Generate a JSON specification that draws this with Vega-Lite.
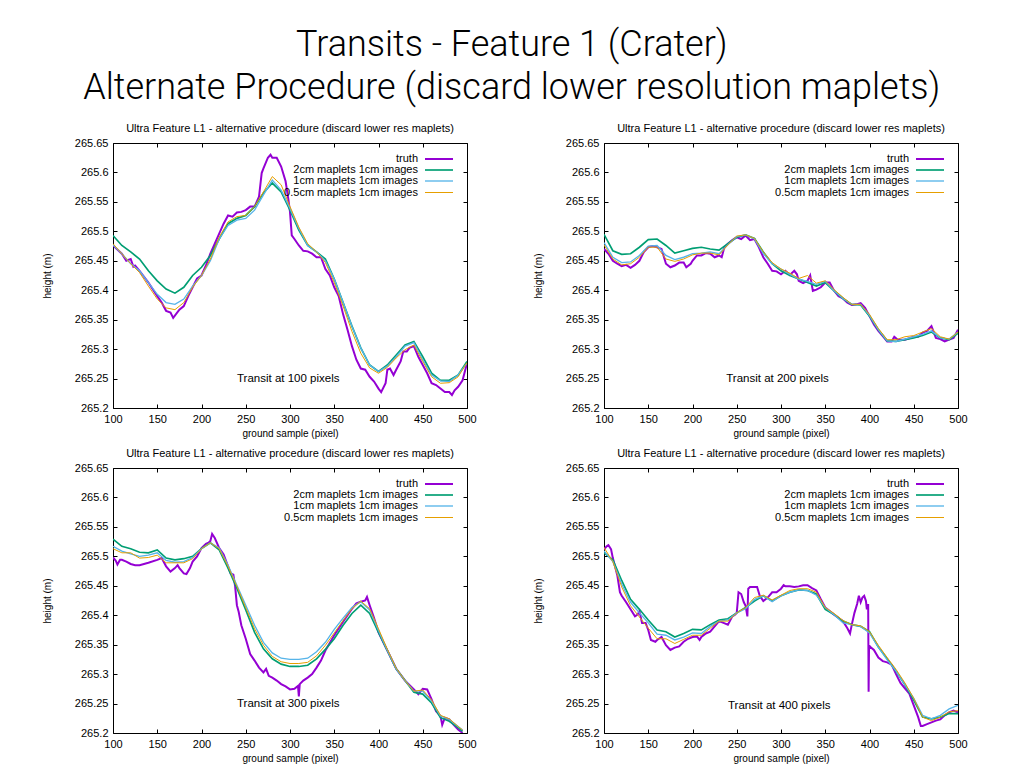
{
"$schema": "https://vega.github.io/schema/vega-lite/v6.json",
"background": "white",
"padding": {"left": 41, "top": 26, "right": 5, "bottom": 2},
"title": {"text": ["Transits - Feature 1 (Crater)", "Alternate Procedure (discard lower resolution maplets)"], "fontSize": 36, "font": "Roboto", "fontWeight": 300, "lineHeight": 43, "anchor": "middle", "offset": 16, "dx": 7, "color": "black"},
"datasets": {
"names": [{"s":"t","series":"truth"},{"s":"a","series":"2cm maplets 1cm images"},{"s":"b","series":"1cm maplets 1cm images"},{"s":"c","series":"0.5cm maplets 1cm images"}],
"d": [
{"p":1,"x":100,"t":265.476},{"p":1,"x":110,"t":265.462},{"p":1,"x":115,"t":265.45},{"p":1,"x":120,"t":265.453},{"p":1,"x":123,"t":265.44},{"p":1,"x":125,"t":265.442},{"p":1,"x":130,"t":265.433},{"p":1,"x":140,"t":265.413},{"p":1,"x":150,"t":265.39},{"p":1,"x":155,"t":265.379},{"p":1,"x":160,"t":265.365},{"p":1,"x":165,"t":265.362},{"p":1,"x":168,"t":265.353},{"p":1,"x":175,"t":265.367},{"p":1,"x":180,"t":265.373},{"p":1,"x":185,"t":265.39},{"p":1,"x":190,"t":265.405},{"p":1,"x":195,"t":265.42},{"p":1,"x":200,"t":265.425},{"p":1,"x":205,"t":265.442},{"p":1,"x":210,"t":265.462},{"p":1,"x":215,"t":265.479},{"p":1,"x":220,"t":265.496},{"p":1,"x":225,"t":265.513},{"p":1,"x":230,"t":265.527},{"p":1,"x":235,"t":265.525},{"p":1,"x":240,"t":265.532},{"p":1,"x":245,"t":265.533},{"p":1,"x":250,"t":265.536},{"p":1,"x":255,"t":265.542},{"p":1,"x":260,"t":265.542},{"p":1,"x":265,"t":265.559},{"p":1,"x":268,"t":265.599},{"p":1,"x":270,"t":265.607},{"p":1,"x":275,"t":265.625},{"p":1,"x":278,"t":265.63},{"p":1,"x":280,"t":265.625},{"p":1,"x":285,"t":265.625},{"p":1,"x":290,"t":265.61},{"p":1,"x":295,"t":265.585},{"p":1,"x":298,"t":265.556},{"p":1,"x":300,"t":265.533},{"p":1,"x":302,"t":265.493},{"p":1,"x":305,"t":265.487},{"p":1,"x":310,"t":265.476},{"p":1,"x":315,"t":265.467},{"p":1,"x":320,"t":265.466},{"p":1,"x":325,"t":265.462},{"p":1,"x":330,"t":265.456},{"p":1,"x":335,"t":265.456},{"p":1,"x":340,"t":265.436},{"p":1,"x":345,"t":265.425},{"p":1,"x":350,"t":265.405},{"p":1,"x":355,"t":265.39},{"p":1,"x":360,"t":265.359},{"p":1,"x":365,"t":265.333},{"p":1,"x":370,"t":265.305},{"p":1,"x":375,"t":265.282},{"p":1,"x":380,"t":265.267},{"p":1,"x":385,"t":265.265},{"p":1,"x":390,"t":265.253},{"p":1,"x":395,"t":265.245},{"p":1,"x":400,"t":265.233},{"p":1,"x":403,"t":265.227},{"p":1,"x":408,"t":265.242},{"p":1,"x":410,"t":265.265},{"p":1,"x":413,"t":265.267},{"p":1,"x":417,"t":265.256},{"p":1,"x":420,"t":265.265},{"p":1,"x":425,"t":265.279},{"p":1,"x":428,"t":265.296},{"p":1,"x":432,"t":265.296},{"p":1,"x":435,"t":265.302},{"p":1,"x":440,"t":265.305},{"p":1,"x":445,"t":265.287},{"p":1,"x":450,"t":265.273},{"p":1,"x":455,"t":265.259},{"p":1,"x":460,"t":265.242},{"p":1,"x":465,"t":265.239},{"p":1,"x":470,"t":265.233},{"p":1,"x":475,"t":265.227},{"p":1,"x":480,"t":265.227},{"p":1,"x":483,"t":265.222},{"p":1,"x":486,"t":265.23},{"p":1,"x":490,"t":265.236},{"p":1,"x":495,"t":265.247},{"p":1,"x":500,"t":265.276},
{"p":1,"x":100,"a":265.493,"b":265.477,"c":265.479},{"p":1,"x":110,"a":265.476,"b":265.462,"c":265.462},{"p":1,"x":120,"a":265.465,"b":265.445,"c":265.445},{"p":1,"x":130,"a":265.453,"b":265.433,"c":265.43},{"p":1,"x":140,"a":265.433,"b":265.413,"c":265.407},{"p":1,"x":150,"a":265.416,"b":265.393,"c":265.385},{"p":1,"x":160,"a":265.402,"b":265.379,"c":265.37},{"p":1,"x":170,"a":265.395,"b":265.376,"c":265.367},{"p":1,"x":180,"a":265.405,"b":265.385,"c":265.379},{"p":1,"x":190,"a":265.425,"b":265.407,"c":265.405},{"p":1,"x":200,"a":265.439,"b":265.425,"c":265.425},{"p":1,"x":210,"a":265.459,"b":265.45,"c":265.453},{"p":1,"x":220,"a":265.487,"b":265.487,"c":265.49},{"p":1,"x":230,"a":265.513,"b":265.51,"c":265.516},{"p":1,"x":240,"a":265.522,"b":265.519,"c":265.525},{"p":1,"x":250,"a":265.527,"b":265.522,"c":265.527},{"p":1,"x":260,"a":265.542,"b":265.536,"c":265.542},{"p":1,"x":270,"a":265.565,"b":265.562,"c":265.567},{"p":1,"x":280,"a":265.582,"b":265.587,"c":265.593},{"p":1,"x":290,"a":265.567,"b":265.57,"c":265.579},{"p":1,"x":300,"a":265.536,"b":265.539,"c":265.542},{"p":1,"x":310,"a":265.502,"b":265.505,"c":265.507},{"p":1,"x":320,"a":265.476,"b":265.476,"c":265.479},{"p":1,"x":330,"a":265.465,"b":265.465,"c":265.465},{"p":1,"x":340,"a":265.453,"b":265.45,"c":265.447},{"p":1,"x":350,"a":265.419,"b":265.419,"c":265.413},{"p":1,"x":360,"a":265.379,"b":265.379,"c":265.373},{"p":1,"x":370,"a":265.339,"b":265.339,"c":265.33},{"p":1,"x":380,"a":265.302,"b":265.302,"c":265.293},{"p":1,"x":390,"a":265.273,"b":265.273,"c":265.268},{"p":1,"x":400,"a":265.262,"b":265.262,"c":265.259},{"p":1,"x":410,"a":265.273,"b":265.271,"c":265.269},{"p":1,"x":420,"a":265.29,"b":265.287,"c":265.285},{"p":1,"x":430,"a":265.307,"b":265.305,"c":265.299},{"p":1,"x":440,"a":265.313,"b":265.311,"c":265.307},{"p":1,"x":450,"a":265.287,"b":265.282,"c":265.279},{"p":1,"x":460,"a":265.259,"b":265.256,"c":265.253},{"p":1,"x":470,"a":265.247,"b":265.246,"c":265.242},{"p":1,"x":480,"a":265.247,"b":265.245,"c":265.243},{"p":1,"x":490,"a":265.256,"b":265.256,"c":265.253},{"p":1,"x":500,"a":265.279,"b":265.276,"c":265.277},
{"p":2,"x":100,"t":265.47},{"p":2,"x":105,"t":265.462},{"p":2,"x":110,"t":265.45},{"p":2,"x":115,"t":265.445},{"p":2,"x":120,"t":265.441},{"p":2,"x":125,"t":265.443},{"p":2,"x":130,"t":265.438},{"p":2,"x":135,"t":265.443},{"p":2,"x":140,"t":265.45},{"p":2,"x":145,"t":265.465},{"p":2,"x":150,"t":265.473},{"p":2,"x":155,"t":265.475},{"p":2,"x":160,"t":265.473},{"p":2,"x":165,"t":265.47},{"p":2,"x":170,"t":265.445},{"p":2,"x":175,"t":265.439},{"p":2,"x":180,"t":265.442},{"p":2,"x":185,"t":265.447},{"p":2,"x":190,"t":265.447},{"p":2,"x":193,"t":265.439},{"p":2,"x":198,"t":265.445},{"p":2,"x":200,"t":265.45},{"p":2,"x":205,"t":265.459},{"p":2,"x":210,"t":265.459},{"p":2,"x":215,"t":265.463},{"p":2,"x":220,"t":265.462},{"p":2,"x":225,"t":265.456},{"p":2,"x":230,"t":265.459},{"p":2,"x":233,"t":265.456},{"p":2,"x":236,"t":265.473},{"p":2,"x":240,"t":265.479},{"p":2,"x":245,"t":265.485},{"p":2,"x":250,"t":265.49},{"p":2,"x":255,"t":265.487},{"p":2,"x":260,"t":265.493},{"p":2,"x":265,"t":265.485},{"p":2,"x":270,"t":265.487},{"p":2,"x":275,"t":265.473},{"p":2,"x":280,"t":265.456},{"p":2,"x":285,"t":265.445},{"p":2,"x":290,"t":265.433},{"p":2,"x":295,"t":265.432},{"p":2,"x":300,"t":265.427},{"p":2,"x":305,"t":265.433},{"p":2,"x":310,"t":265.426},{"p":2,"x":315,"t":265.433},{"p":2,"x":318,"t":265.427},{"p":2,"x":320,"t":265.416},{"p":2,"x":325,"t":265.412},{"p":2,"x":330,"t":265.416},{"p":2,"x":333,"t":265.425},{"p":2,"x":336,"t":265.399},{"p":2,"x":340,"t":265.401},{"p":2,"x":345,"t":265.405},{"p":2,"x":350,"t":265.413},{"p":2,"x":355,"t":265.413},{"p":2,"x":360,"t":265.399},{"p":2,"x":365,"t":265.39},{"p":2,"x":370,"t":265.386},{"p":2,"x":375,"t":265.379},{"p":2,"x":380,"t":265.375},{"p":2,"x":385,"t":265.376},{"p":2,"x":390,"t":265.378},{"p":2,"x":395,"t":265.37},{"p":2,"x":400,"t":265.356},{"p":2,"x":405,"t":265.342},{"p":2,"x":410,"t":265.331},{"p":2,"x":415,"t":265.322},{"p":2,"x":420,"t":265.313},{"p":2,"x":425,"t":265.313},{"p":2,"x":428,"t":265.321},{"p":2,"x":432,"t":265.316},{"p":2,"x":440,"t":265.316},{"p":2,"x":450,"t":265.321},{"p":2,"x":455,"t":265.321},{"p":2,"x":460,"t":265.328},{"p":2,"x":465,"t":265.331},{"p":2,"x":470,"t":265.339},{"p":2,"x":475,"t":265.319},{"p":2,"x":480,"t":265.317},{"p":2,"x":485,"t":265.313},{"p":2,"x":490,"t":265.316},{"p":2,"x":495,"t":265.319},{"p":2,"x":500,"t":265.333},
{"p":2,"x":100,"a":265.495,"b":265.481,"c":265.477},{"p":2,"x":110,"a":265.467,"b":265.456,"c":265.453},{"p":2,"x":120,"a":265.461,"b":265.447,"c":265.443},{"p":2,"x":130,"a":265.462,"b":265.448,"c":265.445},{"p":2,"x":140,"a":265.473,"b":265.459,"c":265.456},{"p":2,"x":150,"a":265.486,"b":265.475,"c":265.473},{"p":2,"x":160,"a":265.487,"b":265.476,"c":265.473},{"p":2,"x":170,"a":265.476,"b":265.459,"c":265.453},{"p":2,"x":180,"a":265.463,"b":265.452,"c":265.449},{"p":2,"x":190,"a":265.467,"b":265.456,"c":265.453},{"p":2,"x":200,"a":265.471,"b":265.462,"c":265.46},{"p":2,"x":210,"a":265.473,"b":265.463,"c":265.463},{"p":2,"x":220,"a":265.47,"b":265.465,"c":265.463},{"p":2,"x":230,"a":265.468,"b":265.462,"c":265.46},{"p":2,"x":240,"a":265.479,"b":265.477,"c":265.477},{"p":2,"x":250,"a":265.49,"b":265.491,"c":265.492},{"p":2,"x":260,"a":265.494,"b":265.494,"c":265.494},{"p":2,"x":270,"a":265.488,"b":265.487,"c":265.488},{"p":2,"x":280,"a":265.465,"b":265.462,"c":265.465},{"p":2,"x":290,"a":265.445,"b":265.445,"c":265.447},{"p":2,"x":300,"a":265.433,"b":265.436,"c":265.436},{"p":2,"x":310,"a":265.425,"b":265.427,"c":265.429},{"p":2,"x":320,"a":265.419,"b":265.419,"c":265.42},{"p":2,"x":330,"a":265.413,"b":265.415,"c":265.425},{"p":2,"x":340,"a":265.407,"b":265.41,"c":265.412},{"p":2,"x":350,"a":265.413,"b":265.415,"c":265.416},{"p":2,"x":360,"a":265.399,"b":265.399,"c":265.401},{"p":2,"x":370,"a":265.386,"b":265.386,"c":265.388},{"p":2,"x":380,"a":265.376,"b":265.376,"c":265.376},{"p":2,"x":390,"a":265.375,"b":265.376,"c":265.376},{"p":2,"x":400,"a":265.356,"b":265.357,"c":265.359},{"p":2,"x":410,"a":265.333,"b":265.333,"c":265.335},{"p":2,"x":420,"a":265.314,"b":265.314,"c":265.316},{"p":2,"x":430,"a":265.313,"b":265.313,"c":265.316},{"p":2,"x":440,"a":265.316,"b":265.317,"c":265.321},{"p":2,"x":450,"a":265.319,"b":265.321,"c":265.323},{"p":2,"x":460,"a":265.323,"b":265.325,"c":265.329},{"p":2,"x":470,"a":265.329,"b":265.331,"c":265.335},{"p":2,"x":480,"a":265.319,"b":265.319,"c":265.321},{"p":2,"x":490,"a":265.316,"b":265.317,"c":265.317},{"p":2,"x":500,"a":265.327,"b":265.329,"c":265.329},
{"p":3,"x":100,"t":265.498},{"p":3,"x":103,"t":265.493},{"p":3,"x":105,"t":265.486},{"p":3,"x":108,"t":265.494},{"p":3,"x":110,"t":265.494},{"p":3,"x":115,"t":265.491},{"p":3,"x":120,"t":265.487},{"p":3,"x":125,"t":265.485},{"p":3,"x":130,"t":265.485},{"p":3,"x":140,"t":265.489},{"p":3,"x":150,"t":265.494},{"p":3,"x":155,"t":265.497},{"p":3,"x":160,"t":265.483},{"p":3,"x":165,"t":265.474},{"p":3,"x":170,"t":265.48},{"p":3,"x":173,"t":265.485},{"p":3,"x":175,"t":265.48},{"p":3,"x":180,"t":265.471},{"p":3,"x":183,"t":265.47},{"p":3,"x":187,"t":265.48},{"p":3,"x":190,"t":265.491},{"p":3,"x":195,"t":265.5},{"p":3,"x":200,"t":265.514},{"p":3,"x":205,"t":265.521},{"p":3,"x":208,"t":265.523},{"p":3,"x":210,"t":265.526},{"p":3,"x":212,"t":265.538},{"p":3,"x":215,"t":265.531},{"p":3,"x":220,"t":265.514},{"p":3,"x":225,"t":265.503},{"p":3,"x":230,"t":265.483},{"p":3,"x":233,"t":265.471},{"p":3,"x":236,"t":265.469},{"p":3,"x":238,"t":265.449},{"p":3,"x":240,"t":265.417},{"p":3,"x":242,"t":265.406},{"p":3,"x":245,"t":265.383},{"p":3,"x":250,"t":265.36},{"p":3,"x":255,"t":265.334},{"p":3,"x":260,"t":265.323},{"p":3,"x":265,"t":265.311},{"p":3,"x":270,"t":265.303},{"p":3,"x":273,"t":265.309},{"p":3,"x":276,"t":265.297},{"p":3,"x":280,"t":265.294},{"p":3,"x":285,"t":265.289},{"p":3,"x":290,"t":265.283},{"p":3,"x":295,"t":265.279},{"p":3,"x":300,"t":265.274},{"p":3,"x":305,"t":265.275},{"p":3,"x":309,"t":265.28},{"p":3,"x":310,"t":265.262},{"p":3,"x":311,"t":265.283},{"p":3,"x":315,"t":265.289},{"p":3,"x":320,"t":265.294},{"p":3,"x":325,"t":265.3},{"p":3,"x":330,"t":265.311},{"p":3,"x":335,"t":265.323},{"p":3,"x":340,"t":265.34},{"p":3,"x":350,"t":265.366},{"p":3,"x":360,"t":265.389},{"p":3,"x":370,"t":265.411},{"p":3,"x":375,"t":265.42},{"p":3,"x":380,"t":265.423},{"p":3,"x":385,"t":265.425},{"p":3,"x":387,"t":265.431},{"p":3,"x":390,"t":265.417},{"p":3,"x":395,"t":265.395},{"p":3,"x":400,"t":265.371},{"p":3,"x":410,"t":265.34},{"p":3,"x":420,"t":265.309},{"p":3,"x":430,"t":265.289},{"p":3,"x":440,"t":265.274},{"p":3,"x":445,"t":265.266},{"p":3,"x":450,"t":265.275},{"p":3,"x":455,"t":265.274},{"p":3,"x":460,"t":265.257},{"p":3,"x":465,"t":265.237},{"p":3,"x":470,"t":265.229},{"p":3,"x":472,"t":265.214},{"p":3,"x":475,"t":265.226},{"p":3,"x":480,"t":265.223},{"p":3,"x":485,"t":265.214},{"p":3,"x":490,"t":265.206},{"p":3,"x":495,"t":265.2},
{"p":3,"x":100,"a":265.529,"b":265.517,"c":265.513},{"p":3,"x":110,"a":265.517,"b":265.509,"c":265.506},{"p":3,"x":120,"a":265.513,"b":265.504,"c":265.506},{"p":3,"x":130,"a":265.507,"b":265.5,"c":265.497},{"p":3,"x":140,"a":265.506,"b":265.502,"c":265.498},{"p":3,"x":150,"a":265.511,"b":265.506,"c":265.502},{"p":3,"x":160,"a":265.497,"b":265.493,"c":265.489},{"p":3,"x":170,"a":265.494,"b":265.49,"c":265.489},{"p":3,"x":180,"a":265.496,"b":265.491,"c":265.489},{"p":3,"x":190,"a":265.5,"b":265.498,"c":265.496},{"p":3,"x":200,"a":265.513,"b":265.513,"c":265.513},{"p":3,"x":210,"a":265.523,"b":265.523,"c":265.523},{"p":3,"x":220,"a":265.511,"b":265.514,"c":265.513},{"p":3,"x":230,"a":265.48,"b":265.485,"c":265.483},{"p":3,"x":240,"a":265.446,"b":265.451,"c":265.449},{"p":3,"x":250,"a":265.409,"b":265.417,"c":265.413},{"p":3,"x":260,"a":265.371,"b":265.383,"c":265.377},{"p":3,"x":270,"a":265.343,"b":265.354,"c":265.349},{"p":3,"x":280,"a":265.326,"b":265.336,"c":265.33},{"p":3,"x":290,"a":265.317,"b":265.327,"c":265.321},{"p":3,"x":300,"a":265.313,"b":265.325,"c":265.318},{"p":3,"x":310,"a":265.313,"b":265.325,"c":265.318},{"p":3,"x":320,"a":265.315,"b":265.327,"c":265.32},{"p":3,"x":330,"a":265.326,"b":265.338,"c":265.331},{"p":3,"x":340,"a":265.342,"b":265.354,"c":265.349},{"p":3,"x":350,"a":265.36,"b":265.376,"c":265.37},{"p":3,"x":360,"a":265.383,"b":265.395,"c":265.391},{"p":3,"x":370,"a":265.403,"b":265.413,"c":265.411},{"p":3,"x":380,"a":265.417,"b":265.423,"c":265.424},{"p":3,"x":390,"a":265.403,"b":265.409,"c":265.411},{"p":3,"x":400,"a":265.371,"b":265.374,"c":265.377},{"p":3,"x":410,"a":265.34,"b":265.34,"c":265.342},{"p":3,"x":420,"a":265.309,"b":265.309,"c":265.31},{"p":3,"x":430,"a":265.289,"b":265.289,"c":265.289},{"p":3,"x":440,"a":265.269,"b":265.271,"c":265.271},{"p":3,"x":450,"a":265.266,"b":265.271,"c":265.273},{"p":3,"x":460,"a":265.251,"b":265.254,"c":265.256},{"p":3,"x":470,"a":265.226,"b":265.229,"c":265.23},{"p":3,"x":480,"a":265.22,"b":265.223,"c":265.224},{"p":3,"x":490,"a":265.209,"b":265.211,"c":265.211},{"p":3,"x":495,"a":265.203,"b":265.205,"c":265.205},
{"p":4,"x":100,"t":265.512},{"p":4,"x":103,"t":265.517},{"p":4,"x":105,"t":265.519},{"p":4,"x":108,"t":265.512},{"p":4,"x":110,"t":265.497},{"p":4,"x":115,"t":265.468},{"p":4,"x":118,"t":265.439},{"p":4,"x":120,"t":265.433},{"p":4,"x":125,"t":265.422},{"p":4,"x":130,"t":265.41},{"p":4,"x":135,"t":265.398},{"p":4,"x":138,"t":265.401},{"p":4,"x":140,"t":265.407},{"p":4,"x":143,"t":265.387},{"p":4,"x":147,"t":265.387},{"p":4,"x":150,"t":265.375},{"p":4,"x":153,"t":265.358},{"p":4,"x":158,"t":265.355},{"p":4,"x":160,"t":265.358},{"p":4,"x":165,"t":265.363},{"p":4,"x":170,"t":265.349},{"p":4,"x":175,"t":265.341},{"p":4,"x":180,"t":265.345},{"p":4,"x":185,"t":265.347},{"p":4,"x":190,"t":265.355},{"p":4,"x":195,"t":265.36},{"p":4,"x":200,"t":265.363},{"p":4,"x":205,"t":265.364},{"p":4,"x":208,"t":265.358},{"p":4,"x":210,"t":265.363},{"p":4,"x":215,"t":265.369},{"p":4,"x":220,"t":265.372},{"p":4,"x":225,"t":265.381},{"p":4,"x":230,"t":265.39},{"p":4,"x":235,"t":265.387},{"p":4,"x":240,"t":265.384},{"p":4,"x":245,"t":265.398},{"p":4,"x":248,"t":265.401},{"p":4,"x":250,"t":265.404},{"p":4,"x":252,"t":265.439},{"p":4,"x":255,"t":265.436},{"p":4,"x":258,"t":265.422},{"p":4,"x":260,"t":265.416},{"p":4,"x":262,"t":265.398},{"p":4,"x":263,"t":265.445},{"p":4,"x":265,"t":265.448},{"p":4,"x":270,"t":265.448},{"p":4,"x":273,"t":265.448},{"p":4,"x":276,"t":265.433},{"p":4,"x":280,"t":265.424},{"p":4,"x":285,"t":265.43},{"p":4,"x":290,"t":265.439},{"p":4,"x":295,"t":265.439},{"p":4,"x":300,"t":265.445},{"p":4,"x":303,"t":265.451},{"p":4,"x":305,"t":265.449},{"p":4,"x":310,"t":265.449},{"p":4,"x":315,"t":265.448},{"p":4,"x":320,"t":265.449},{"p":4,"x":325,"t":265.451},{"p":4,"x":330,"t":265.451},{"p":4,"x":335,"t":265.446},{"p":4,"x":340,"t":265.442},{"p":4,"x":345,"t":265.427},{"p":4,"x":350,"t":265.413},{"p":4,"x":360,"t":265.401},{"p":4,"x":370,"t":265.39},{"p":4,"x":375,"t":265.378},{"p":4,"x":378,"t":265.369},{"p":4,"x":380,"t":265.384},{"p":4,"x":383,"t":265.404},{"p":4,"x":386,"t":265.419},{"p":4,"x":388,"t":265.433},{"p":4,"x":390,"t":265.422},{"p":4,"x":392,"t":265.43},{"p":4,"x":394,"t":265.433},{"p":4,"x":396,"t":265.424},{"p":4,"x":397,"t":265.41},{"p":4,"x":398.5,"t":265.419},{"p":4,"x":399,"t":265.27},{"p":4,"x":399.5,"t":265.349},{"p":4,"x":401,"t":265.346},{"p":4,"x":405,"t":265.341},{"p":4,"x":410,"t":265.328},{"p":4,"x":415,"t":265.322},{"p":4,"x":420,"t":265.32},{"p":4,"x":425,"t":265.316},{"p":4,"x":430,"t":265.3},{"p":4,"x":435,"t":265.285},{"p":4,"x":440,"t":265.276},{"p":4,"x":445,"t":265.267},{"p":4,"x":450,"t":265.247},{"p":4,"x":455,"t":265.227},{"p":4,"x":458,"t":265.212},{"p":4,"x":460,"t":265.212},{"p":4,"x":465,"t":265.215},{"p":4,"x":470,"t":265.218},{"p":4,"x":475,"t":265.221},{"p":4,"x":480,"t":265.223},{"p":4,"x":485,"t":265.23},{"p":4,"x":490,"t":265.235},{"p":4,"x":495,"t":265.238},{"p":4,"x":500,"t":265.235},
{"p":4,"x":100,"a":265.506,"b":265.509,"c":265.515},{"p":4,"x":110,"a":265.494,"b":265.491,"c":265.491},{"p":4,"x":120,"a":265.459,"b":265.453,"c":265.448},{"p":4,"x":130,"a":265.427,"b":265.422,"c":265.416},{"p":4,"x":140,"a":265.41,"b":265.404,"c":265.397},{"p":4,"x":150,"a":265.392,"b":265.387,"c":265.378},{"p":4,"x":160,"a":265.375,"b":265.368,"c":265.36},{"p":4,"x":170,"a":265.372,"b":265.366,"c":265.36},{"p":4,"x":180,"a":265.363,"b":265.358,"c":265.352},{"p":4,"x":190,"a":265.369,"b":265.363,"c":265.359},{"p":4,"x":200,"a":265.376,"b":265.37,"c":265.366},{"p":4,"x":210,"a":265.375,"b":265.369,"c":265.366},{"p":4,"x":220,"a":265.384,"b":265.381,"c":265.378},{"p":4,"x":230,"a":265.392,"b":265.39,"c":265.39},{"p":4,"x":240,"a":265.394,"b":265.392,"c":265.39},{"p":4,"x":250,"a":265.404,"b":265.404,"c":265.404},{"p":4,"x":260,"a":265.413,"b":265.411,"c":265.413},{"p":4,"x":270,"a":265.424,"b":265.427,"c":265.43},{"p":4,"x":280,"a":265.433,"b":265.433,"c":265.434},{"p":4,"x":290,"a":265.424,"b":265.423,"c":265.426},{"p":4,"x":300,"a":265.433,"b":265.433,"c":265.434},{"p":4,"x":310,"a":265.439,"b":265.439,"c":265.442},{"p":4,"x":320,"a":265.443,"b":265.443,"c":265.445},{"p":4,"x":330,"a":265.442,"b":265.442,"c":265.445},{"p":4,"x":340,"a":265.436,"b":265.434,"c":265.439},{"p":4,"x":350,"a":265.41,"b":265.413,"c":265.413},{"p":4,"x":360,"a":265.401,"b":265.401,"c":265.403},{"p":4,"x":370,"a":265.39,"b":265.387,"c":265.391},{"p":4,"x":380,"a":265.384,"b":265.384,"c":265.384},{"p":4,"x":390,"a":265.381,"b":265.381,"c":265.382},{"p":4,"x":400,"a":265.372,"b":265.37,"c":265.372},{"p":4,"x":410,"a":265.346,"b":265.346,"c":265.349},{"p":4,"x":420,"a":265.326,"b":265.324,"c":265.328},{"p":4,"x":430,"a":265.305,"b":265.305,"c":265.308},{"p":4,"x":440,"a":265.282,"b":265.282,"c":265.285},{"p":4,"x":450,"a":265.256,"b":265.259,"c":265.259},{"p":4,"x":460,"a":265.227,"b":265.23,"c":265.227},{"p":4,"x":470,"a":265.224,"b":265.224,"c":265.221},{"p":4,"x":480,"a":265.227,"b":265.23,"c":265.227},{"p":4,"x":490,"a":265.233,"b":265.241,"c":265.236},{"p":4,"x":500,"a":265.233,"b":265.247,"c":265.238}
]
},
"columns": 2,
"spacing": {"row": 8, "column": 55},
"resolve": {"scale": {"color": "independent", "strokeWidth": "independent"}, "legend": {"color": "independent", "strokeWidth": "independent"}},
"concat": [
{"width": 354, "height": 265,
 "title": {"text": "Ultra Feature L1 - alternative procedure (discard lower res maplets)"},
 "resolve": {"axis": {"x": "independent", "y": "independent"}},
 "layer": [
  {"data": {"name": "d"},
   "transform": [{"filter": "datum.p == 1"}, {"fold": ["t", "a", "b", "c"], "as": ["s", "y"]}, {"filter": "isValid(datum.y)"}, {"lookup": "s", "from": {"data": {"name": "names"}, "key": "s", "fields": ["series"]}}],
   "mark": {"type": "line", "clip": true},
   "encoding": {
    "x": {"field": "x", "type": "quantitative", "scale": {"domain": [100, 500], "nice": false, "zero": false}, "axis": {"values": [100,150,200,250,300,350,400,450,500], "title": "ground sample (pixel)"}},
    "y": {"field": "y", "type": "quantitative", "scale": {"domain": [265.2, 265.65], "nice": false, "zero": false}, "axis": {"values": [265.2,265.25,265.3,265.35,265.4,265.45,265.5,265.55,265.6,265.65], "format": "~g", "title": "height (m)"}},
    "color": {"field": "series", "type": "nominal", "scale": {"domain": ["truth","2cm maplets 1cm images","1cm maplets 1cm images","0.5cm maplets 1cm images"], "range": ["#9400D3","#009E73","#56B4E9","#E69F00"]}, "legend": {"title": null}},
    "strokeWidth": {"field": "series", "type": "nominal", "scale": {"domain": ["truth","2cm maplets 1cm images","1cm maplets 1cm images","0.5cm maplets 1cm images"], "range": [2,1,1,1]}, "legend": {"title": null}}
   }},
  {"data": {"values": [{"label": "Transit at 100 pixels"}]},
   "mark": {"type": "text", "fontSize": 11.5, "font": "Liberation Sans", "color": "black"},
   "encoding": {"x": {"datum": 298, "type": "quantitative", "axis": {"orient": "top", "labels": false, "title": null, "values": [100,150,200,250,300,350,400,450,500]}}, "y": {"datum": 265.25, "type": "quantitative", "axis": {"orient": "right", "labels": false, "title": null, "values": [265.2,265.25,265.3,265.35,265.4,265.45,265.5,265.55,265.6,265.65]}}, "text": {"field": "label"}}}
 ]},
{"width": 354, "height": 265,
 "title": {"text": "Ultra Feature L1 - alternative procedure (discard lower res maplets)"},
 "resolve": {"axis": {"x": "independent", "y": "independent"}},
 "layer": [
  {"data": {"name": "d"},
   "transform": [{"filter": "datum.p == 2"}, {"fold": ["t", "a", "b", "c"], "as": ["s", "y"]}, {"filter": "isValid(datum.y)"}, {"lookup": "s", "from": {"data": {"name": "names"}, "key": "s", "fields": ["series"]}}],
   "mark": {"type": "line", "clip": true},
   "encoding": {
    "x": {"field": "x", "type": "quantitative", "scale": {"domain": [100, 500], "nice": false, "zero": false}, "axis": {"values": [100,150,200,250,300,350,400,450,500], "title": "ground sample (pixel)"}},
    "y": {"field": "y", "type": "quantitative", "scale": {"domain": [265.2, 265.65], "nice": false, "zero": false}, "axis": {"values": [265.2,265.25,265.3,265.35,265.4,265.45,265.5,265.55,265.6,265.65], "format": "~g", "title": "height (m)"}},
    "color": {"field": "series", "type": "nominal", "scale": {"domain": ["truth","2cm maplets 1cm images","1cm maplets 1cm images","0.5cm maplets 1cm images"], "range": ["#9400D3","#009E73","#56B4E9","#E69F00"]}, "legend": {"title": null}},
    "strokeWidth": {"field": "series", "type": "nominal", "scale": {"domain": ["truth","2cm maplets 1cm images","1cm maplets 1cm images","0.5cm maplets 1cm images"], "range": [2,1,1,1]}, "legend": {"title": null}}
   }},
  {"data": {"values": [{"label": "Transit at 200 pixels"}]},
   "mark": {"type": "text", "fontSize": 11.5, "font": "Liberation Sans", "color": "black"},
   "encoding": {"x": {"datum": 296, "type": "quantitative", "axis": {"orient": "top", "labels": false, "title": null, "values": [100,150,200,250,300,350,400,450,500]}}, "y": {"datum": 265.25, "type": "quantitative", "axis": {"orient": "right", "labels": false, "title": null, "values": [265.2,265.25,265.3,265.35,265.4,265.45,265.5,265.55,265.6,265.65]}}, "text": {"field": "label"}}}
 ]},
{"width": 354, "height": 265,
 "title": {"text": "Ultra Feature L1 - alternative procedure (discard lower res maplets)"},
 "resolve": {"axis": {"x": "independent", "y": "independent"}},
 "layer": [
  {"data": {"name": "d"},
   "transform": [{"filter": "datum.p == 3"}, {"fold": ["t", "a", "b", "c"], "as": ["s", "y"]}, {"filter": "isValid(datum.y)"}, {"lookup": "s", "from": {"data": {"name": "names"}, "key": "s", "fields": ["series"]}}],
   "mark": {"type": "line", "clip": true},
   "encoding": {
    "x": {"field": "x", "type": "quantitative", "scale": {"domain": [100, 500], "nice": false, "zero": false}, "axis": {"values": [100,150,200,250,300,350,400,450,500], "title": "ground sample (pixel)"}},
    "y": {"field": "y", "type": "quantitative", "scale": {"domain": [265.2, 265.65], "nice": false, "zero": false}, "axis": {"values": [265.2,265.25,265.3,265.35,265.4,265.45,265.5,265.55,265.6,265.65], "format": "~g", "title": "height (m)"}},
    "color": {"field": "series", "type": "nominal", "scale": {"domain": ["truth","2cm maplets 1cm images","1cm maplets 1cm images","0.5cm maplets 1cm images"], "range": ["#9400D3","#009E73","#56B4E9","#E69F00"]}, "legend": {"title": null}},
    "strokeWidth": {"field": "series", "type": "nominal", "scale": {"domain": ["truth","2cm maplets 1cm images","1cm maplets 1cm images","0.5cm maplets 1cm images"], "range": [2,1,1,1]}, "legend": {"title": null}}
   }},
  {"data": {"values": [{"label": "Transit at 300 pixels"}]},
   "mark": {"type": "text", "fontSize": 11.5, "font": "Liberation Sans", "color": "black"},
   "encoding": {"x": {"datum": 298, "type": "quantitative", "axis": {"orient": "top", "labels": false, "title": null, "values": [100,150,200,250,300,350,400,450,500]}}, "y": {"datum": 265.249, "type": "quantitative", "axis": {"orient": "right", "labels": false, "title": null, "values": [265.2,265.25,265.3,265.35,265.4,265.45,265.5,265.55,265.6,265.65]}}, "text": {"field": "label"}}}
 ]},
{"width": 354, "height": 265,
 "title": {"text": "Ultra Feature L1 - alternative procedure (discard lower res maplets)"},
 "resolve": {"axis": {"x": "independent", "y": "independent"}},
 "layer": [
  {"data": {"name": "d"},
   "transform": [{"filter": "datum.p == 4"}, {"fold": ["t", "a", "b", "c"], "as": ["s", "y"]}, {"filter": "isValid(datum.y)"}, {"lookup": "s", "from": {"data": {"name": "names"}, "key": "s", "fields": ["series"]}}],
   "mark": {"type": "line", "clip": true},
   "encoding": {
    "x": {"field": "x", "type": "quantitative", "scale": {"domain": [100, 500], "nice": false, "zero": false}, "axis": {"values": [100,150,200,250,300,350,400,450,500], "title": "ground sample (pixel)"}},
    "y": {"field": "y", "type": "quantitative", "scale": {"domain": [265.2, 265.65], "nice": false, "zero": false}, "axis": {"values": [265.2,265.25,265.3,265.35,265.4,265.45,265.5,265.55,265.6,265.65], "format": "~g", "title": "height (m)"}},
    "color": {"field": "series", "type": "nominal", "scale": {"domain": ["truth","2cm maplets 1cm images","1cm maplets 1cm images","0.5cm maplets 1cm images"], "range": ["#9400D3","#009E73","#56B4E9","#E69F00"]}, "legend": {"title": null}},
    "strokeWidth": {"field": "series", "type": "nominal", "scale": {"domain": ["truth","2cm maplets 1cm images","1cm maplets 1cm images","0.5cm maplets 1cm images"], "range": [2,1,1,1]}, "legend": {"title": null}}
   }},
  {"data": {"values": [{"label": "Transit at 400 pixels"}]},
   "mark": {"type": "text", "fontSize": 11.5, "font": "Liberation Sans", "color": "black"},
   "encoding": {"x": {"datum": 298, "type": "quantitative", "axis": {"orient": "top", "labels": false, "title": null, "values": [100,150,200,250,300,350,400,450,500]}}, "y": {"datum": 265.246, "type": "quantitative", "axis": {"orient": "right", "labels": false, "title": null, "values": [265.2,265.25,265.3,265.35,265.4,265.45,265.5,265.55,265.6,265.65]}}, "text": {"field": "label"}}}
 ]}
],
"config": {
 "font": "Liberation Sans",
 "view": {"stroke": "black", "strokeWidth": 1},
 "title": {"fontSize": 11, "fontWeight": "normal", "font": "Liberation Sans", "color": "black", "offset": 3},
 "axis": {"grid": false, "domain": false, "tickColor": "black", "tickSize": -4, "labelPadding": 9, "labelOverlap": false, "labelFlush": false, "labelFont": "Liberation Sans", "labelFontSize": 11, "labelColor": "black", "titleFont": "Liberation Sans", "titleFontSize": 10, "titleFontWeight": "normal", "titleColor": "black"},
 "axisY": {"titlePadding": 22},
 "axisX": {"titlePadding": 4},
 "legend": {"orient": "top-right", "offset": 10, "symbolType": "M-2.8,0H2.8", "symbolSize": 100, "labelAlign": "right", "labelOffset": -27, "labelFont": "Liberation Sans", "labelFontSize": 11, "labelColor": "black", "labelLimit": 300, "rowPadding": 0, "padding": 0}
}
}
